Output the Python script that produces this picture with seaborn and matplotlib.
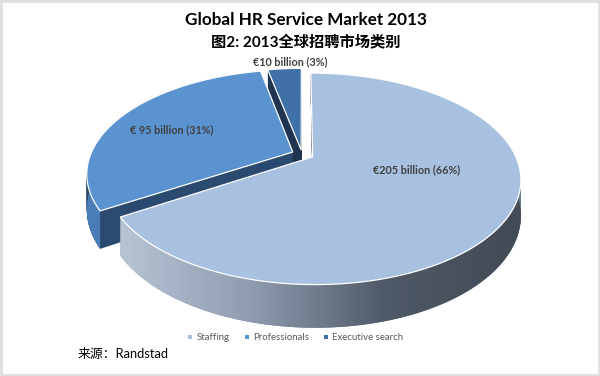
import numpy as np
import matplotlib
matplotlib.use("Agg")
import matplotlib.pyplot as plt
import matplotlib.transforms as mtransforms
from matplotlib.path import Path
import seaborn as sns
from matplotlib.patches import Polygon, Patch, Rectangle
from matplotlib.colors import LinearSegmentedColormap

# ---- data ----
categories = ["Staffing", "Professionals", "Executive search"]
values = [205, 95, 10]           # € billion
shares = [66, 31, 3]             # %
value_labels = ["€205 billion (66%)", "€ 95 billion (31%)", "€10 billion (3%)"]
title_en = "Global HR Service Market 2013"
title_cn = "图2: 2013全球招聘市场类别"
source = "来源：Randstad"

# ---- style ----
sns.set_theme(style="white")
plt.rcParams["font.family"] = ["Lato", "Noto Sans CJK SC", "DejaVu Sans"]

top_colors = ["#A9C1E1", "#5B93D1", "#3F70A8"]
face_colors = ["#6A7A90", "#2B4A6F", "#1E3450"]
rim_colors = [None, "#4A7DB5", "#2E5580"]
explode = [0.06, 0.05, 0.04]

W, H = 600, 376
# perspective "3D" projection parameters (pixels, y up)
CX, CY = 302.0, 222.0
RX, RY = 202.0, 100.0
P = 0.206
D = 34.0


class Persp(mtransforms.Transform):
    input_dims = 2
    output_dims = 2
    is_separable = False
    has_inverse = False

    def __init__(self, zoff=0.0):
        super().__init__()
        self.zoff = zoff

    def transform_non_affine(self, xy):
        xy = np.asarray(xy, dtype=float).reshape(-1, 2)
        x, y = xy[:, 0], xy[:, 1]
        f = 1.0 / (1.0 + P * y)
        return np.column_stack([CX + RX * x * f, CY + (RY * y - self.zoff) * f])

    def transform_path_non_affine(self, path):
        pts, codes = [], []
        for seg, code in path.iter_bezier():
            cp = seg.control_points
            if code == Path.MOVETO:
                pts.append(cp[0])
                codes.append(Path.MOVETO)
            else:
                n = 1 if len(cp) == 2 else 24
                ts = np.linspace(0, 1, n + 1)[1:]
                for p in seg(ts):
                    pts.append(p)
                    codes.append(Path.LINETO)
        pts = np.array(pts)
        return Path(self.transform_non_affine(pts), codes)


fig = plt.figure(figsize=(W / 100, H / 100), dpi=100)
ax = fig.add_axes([0, 0, 1, 1])

# side layers (extrusion)
n_layers = 46
for i in range(n_layers):
    z = D * (1 - i / (n_layers - 1))
    ws, _ = ax.pie(values, explode=explode, startangle=90, counterclock=False,
                   colors=face_colors, center=(0, 0), radius=1,
                   wedgeprops=dict(linewidth=0))
    for w in ws:
        w.set_transform(Persp(z) + ax.transData)
        w.set_zorder(1 + i * 0.001)

# top face
wedges, _ = ax.pie(values, explode=explode, startangle=90, counterclock=False,
                   colors=top_colors, center=(0, 0), radius=1,
                   wedgeprops=dict(linewidth=0.9, edgecolor="white"))
for w in wedges:
    w.set_transform(Persp(0) + ax.transData)
    w.set_zorder(5)


def visible_ranges(t1, t2):
    res = []
    for lo, hi in [(-540, -360), (-180, 0), (180, 360)]:
        a, b = max(t1, lo), min(t2, hi)
        if b > a:
            res.append((a, b))
    return res


top_t, bot_t = Persp(0), Persp(D)
cmap = LinearSegmentedColormap.from_list("side", ["#B8C4D4", "#8E9BAE", "#4F5866", "#424A56"])
for k, w in enumerate(wedges):
    cx, cy = w.center
    for a, b in visible_ranges(w.theta1, w.theta2):
        th = np.radians(np.linspace(a, b, 160))
        disk = np.column_stack([cx + np.cos(th), cy + np.sin(th)])
        top = top_t.transform_non_affine(disk)
        bot = bot_t.transform_non_affine(disk)
        pts = np.concatenate([top, bot[::-1]])
        if k == 0:
            poly = Polygon(pts, closed=True, facecolor="none", edgecolor="none")
            ax.add_patch(poly)
            grad = np.linspace(0, 1, 256).reshape(1, -1)
            im = ax.imshow(grad, cmap=cmap, aspect="auto",
                           extent=[pts[:, 0].min(), pts[:, 0].max(),
                                   pts[:, 1].min(), pts[:, 1].max()],
                           zorder=4, interpolation="bilinear")
            im.set_clip_path(poly)
        else:
            ax.add_patch(Polygon(pts, closed=True, facecolor=rim_colors[k],
                                 edgecolor="none", zorder=4))

# value labels (pixel positions)
label_pos = [(417, 206), (172, 246), (290, 314)]
for (lx, ly), txt in zip(label_pos, value_labels):
    ax.text(lx, ly, txt, ha="center", va="center", fontsize=7.8, fontweight="bold",
            color="#404040", zorder=6)

ax.set_aspect("auto")
ax.set_xlim(0, W)
ax.set_ylim(0, H)
ax.axis("off")

# titles
fig.text(306 / W, 1 - 20 / H, title_en, ha="center", va="center",
         fontsize=12.3, fontweight="bold", color="black")
fig.text(306 / W, 1 - 42 / H, title_cn, ha="center", va="center",
         fontsize=11, fontweight="bold", color="black")

# legend
handles = [Patch(facecolor=c, edgecolor="none") for c in top_colors]
fig.legend(handles, categories, loc="center", bbox_to_anchor=(296 / W, 1 - 338 / H),
           ncol=3, frameon=False, fontsize=6.9, handlelength=0.4, handleheight=0.4,
           columnspacing=1.6, handletextpad=0.45, labelcolor="#595959")

# source
fig.text(78 / W, 1 - 354 / H, source, ha="left", va="center", fontsize=9.3, color="black")

# outer frame
fig.patches.append(Rectangle((0, 0), 1, 1, transform=fig.transFigure, fill=False,
                             edgecolor="#E0E0E0", linewidth=3.5))

fig.savefig("out.png", dpi=100, facecolor="white")
